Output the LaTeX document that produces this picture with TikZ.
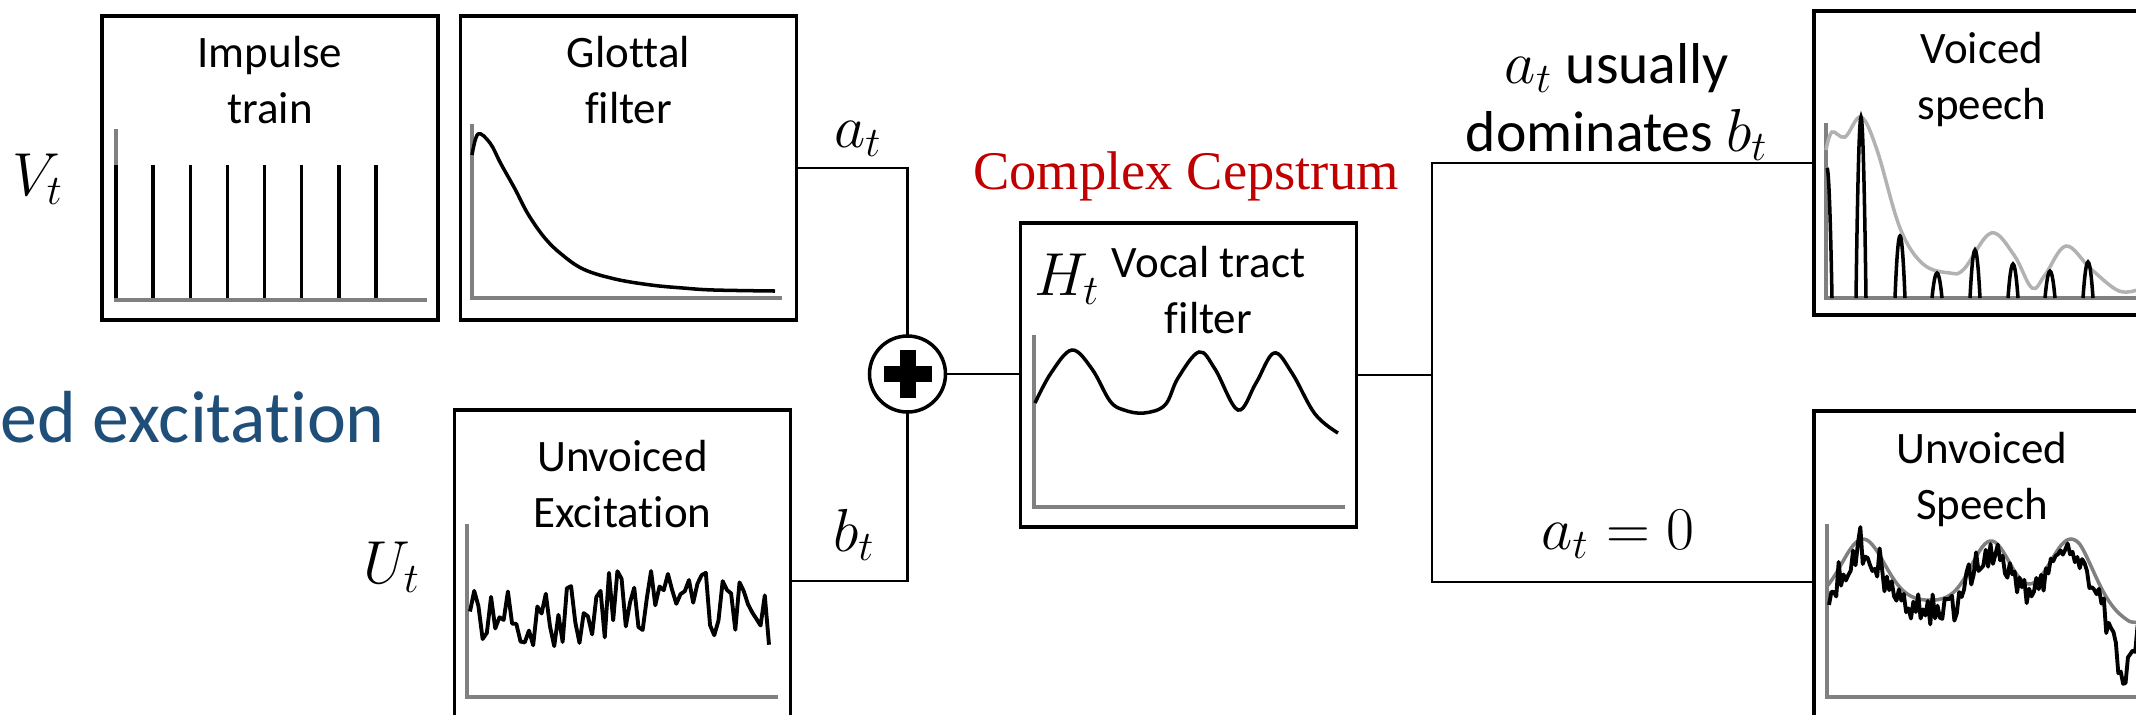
\documentclass[tikz,border=0pt]{standalone}
\usepackage[no-math]{fontspec}
\setmainfont{Carlito}[Ligatures=NoCommon]
\newfontfamily\cepfont{Liberation Serif}
\usepackage{xcolor}
\usetikzlibrary{positioning}

\definecolor{cepred}{HTML}{C00000}
\definecolor{excblue}{HTML}{1F4E79}

\begin{document}
\begin{tikzpicture}[
    x=0.1mm, y=-0.1mm,
    box/.style={draw, line width=1pt, minimum width=33.6mm, minimum height=30.4mm},
    ttl/.style={align=center, inner sep=0pt, font=\fontsize{12.8}{15.9}\selectfont},
    lbl/.style={inner sep=0pt, anchor=base, font=\fontsize{16.4}{19.2}\selectfont},
    conn/.style={line width=0.7pt},
    axis/.style={draw=gray, line width=1pt},
    sig/.style={line width=1pt},
    noise/.style={line width=1.1pt, line join=round},
    declare function={envU(\x)=601+22*min(1,max(0,(\x-2080)/50))-62*exp(-((\x-1863)/30)^2)-60*exp(-((\x-1991)/27)^2)-62*exp(-((\x-2071)/30)^2);}
]
\useasboundingbox (0,0) rectangle (2136,714);
\pgfmathsetseed{7}

% boxes
\node[box] (imp) at (270,168) {};
\node[box, right=1.9mm of imp] (glot) {};
\node[box, minimum height=34.2mm] (uexc) at (622.5,581) {};
\node[box] (vt) at (1188.5,375) {};
\node[box] (voiced) at (1982,163) {};
\node[box, minimum height=34.2mm] (uspch) at (1982,582) {};

\node[ttl, below=2.1mm of imp.north] (impttl) {Impulse\\train};
\node[ttl, below=2.1mm of glot.north] (glotttl) {Glottal\\filter};
\node[ttl, below=3.1mm of uexc.north] (uexcttl) {Unvoiced\\Excitation};
\node[ttl, below=2.4mm of vt.north, xshift=2mm] (vtttl) {Vocal tract\\filter};
\node[ttl, below=2.2mm of voiced.north] (voicedttl) {Voiced\\speech};
\node[ttl, below=2.2mm of uspch.north] (uspchttl) {Unvoiced\\Speech};

% labels
\node[lbl] (vlab) at (38,195) {$V_t$};
\node[lbl] (ulab) at (392,583) {$U_t$};
\node[lbl] (alab) at (858,147) {$a_t$};
\node[lbl] (blab) at (854,551) {$b_t$};
\node[lbl] (hlab) at (1067,295) {$H_t$};
\node[lbl, anchor=north, align=center] (dom) at (1617,43) {$a_t$ usually\\dominates $b_t$};
\node[lbl] (azero) at (1618,549) {$a_t = 0$};
\node[inner sep=0pt, anchor=base, text=cepred, font=\cepfont\fontsize{15.5}{18}\selectfont] (cep) at (1186,189) {Complex Cepstrum};
\node[inner sep=0pt, anchor=base west, text=excblue, font=\fontsize{21}{24}\selectfont] (exc) at (0,442) {ed excitation};

% connectors
\coordinate (split) at (1432,377);
\draw[conn] (glot.east) -| (907.5,374);
\draw[conn] (uexc.east) -| (907.5,374);
\node[circle, draw, line width=1pt, fill=white, minimum size=7.6mm] (sum) at (907.5,374) {};
\draw[line width=1.6mm] ([xshift=-2.4mm]sum.center) -- ([xshift=2.4mm]sum.center);
\draw[line width=1.6mm] ([yshift=-2.4mm]sum.center) -- ([yshift=2.4mm]sum.center);
\draw[conn] (sum.east) -- (sum.east -| vt.west);
\draw[conn] (vt.east) -- (vt.east -| split);
\draw[conn] (voiced.west) -| (split) |- (uspch.west);

% impulse train
\draw[axis] (116,129) -- (116,300) -- (427,300);
\foreach \k in {0,...,7}
    \draw[sig] ({116+37.14*\k},165) -- ({116+37.14*\k},298);

% glottal filter
\draw[axis] (472,124) -- (472,298) -- (782,298);
\draw[sig] plot[smooth, tension=0.6] coordinates {(472,155) (478,134) (490,143) (501,164) (515,189) (528,214) (544,237) (560,253) (583,269) (615,279) (651,285) (683,288) (714,290) (775,291)};

% unvoiced excitation
\draw[axis] (467,524) -- (467,697) -- (778,697);
\draw[noise] plot[domain=470:769, samples=72] (\x, {607+10*sin(1.5*\x)+32*rand});

% vocal tract
\draw[axis] (1034,335) -- (1034,507) -- (1345,507);
\draw[sig] plot[smooth, tension=0.6] coordinates {(1035,403) (1051,373) (1072,350) (1092,369) (1110,401) (1124,410) (1144,413) (1165,405) (1178,378) (1199,352) (1215,369) (1238,410) (1256,383) (1274,353) (1292,373) (1315,414) (1338,433)};

% voiced speech
\draw[axis] (1826,123) -- (1826,298) -- (2140,298);
\draw[draw=gray!60, line width=1pt] plot[smooth, tension=0.6] coordinates {(1826,150) (1832,132) (1845,137) (1861,117) (1877,150) (1900,228) (1923,264) (1950,273) (1964,269) (1991,233) (2014,255) (2032,288) (2045,275) (2066,246) (2091,269) (2119,291) (2140,289)};
\draw[sig] (1827,168) parabola (1832,298);
\foreach \xc/\yt in {1861/117, 1900/236, 1937/273, 1975/250, 2013/264, 2050/271, 2088/262}
    \draw[sig] ({\xc-5},298) parabola bend (\xc,\yt) ({\xc+5},298);

% unvoiced speech
\draw[axis] (1827,524) -- (1827,697) -- (2140,697);
\draw[axis] plot[domain=1827:2140, samples=120] (\x, {envU(\x)});
\draw[noise] plot[domain=1829:2140, samples=130] (\x, {envU(\x)+10+16*rand+14*rand*rand*rand+45*exp(-((\x-2122)/12)^2)});
\end{tikzpicture}
\end{document}
